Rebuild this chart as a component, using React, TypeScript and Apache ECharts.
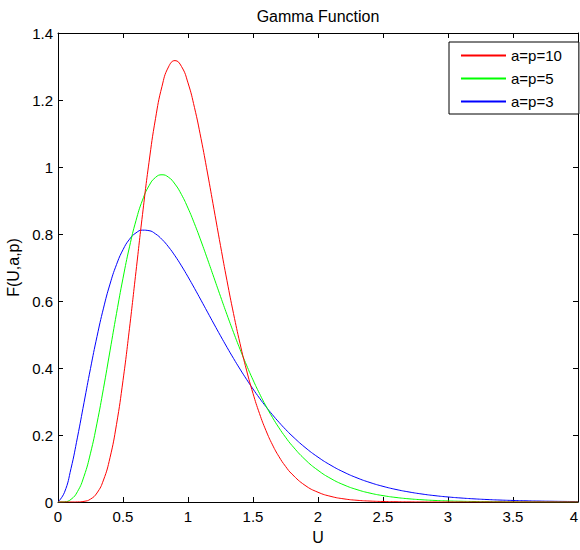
import React, { useEffect, useRef } from "react";
import * as echarts from "echarts";

const uValues = [
  0, 0.05, 0.1, 0.15, 0.2, 0.25, 0.3, 0.35, 0.4, 0.45, 0.5, 0.55, 0.6, 0.65, 0.7, 0.75, 0.8, 0.85, 0.9, 0.95,
  1.0, 1.05, 1.1, 1.15, 1.2, 1.25, 1.3, 1.35, 1.4, 1.45, 1.5, 1.55, 1.6, 1.65, 1.7, 1.75, 1.8,
  1.9, 2.0, 2.1, 2.2, 2.3, 2.4, 2.5, 2.6, 2.7, 2.8, 2.9, 3.0, 3.1, 3.2, 3.3, 3.4, 3.5, 3.6, 3.7, 3.8, 3.9, 4.0,
];

const seriesP10 = [
  0, 0, 0.00001, 0.00024, 0.0019, 0.0086, 0.027, 0.0656, 0.1323, 0.2316, 0.3627, 0.5187, 0.6884, 0.8581,
  1.014, 1.1444, 1.2408, 1.2987, 1.3176, 1.3, 1.2511, 1.1772, 1.0853, 0.982, 0.8736, 0.7652, 0.6605, 0.5627,
  0.4734, 0.3938, 0.3241, 0.264, 0.2131, 0.1705, 0.1353, 0.1065, 0.0833,
  0.0498, 0.0291, 0.0166, 0.0093, 0.0051, 0.0028, 0.0015, 0.0008, 0.0004, 0.0002, 0.0001, 0.00005,
  0, 0, 0, 0, 0, 0, 0, 0, 0, 0,
];

const seriesP5 = [
  0, 0.00063, 0.0079, 0.0311, 0.0766, 0.1457, 0.2353, 0.3395, 0.4511, 0.5628, 0.668, 0.7617, 0.8402, 0.9012,
  0.944, 0.9689, 0.9768, 0.9695, 0.949, 0.9176, 0.8773, 0.8305, 0.7791, 0.7248, 0.6693, 0.6137, 0.5591, 0.5064,
  0.4561, 0.4088, 0.3646, 0.3237, 0.2863, 0.2521, 0.2213, 0.1935, 0.1687,
  0.127, 0.0946, 0.0697, 0.0509, 0.0369, 0.0265, 0.019, 0.0135, 0.0095, 0.0067, 0.0046, 0.0032, 0.0022,
  0.0015, 0.0011, 0.0007, 0.0005, 0.0003, 0.0002, 0.00015, 0.0001, 0.00007,
];

const seriesP3 = [
  0, 0.029, 0.1, 0.1937, 0.2964, 0.3986, 0.494, 0.5787, 0.6506, 0.7087, 0.7531, 0.7843, 0.8034, 0.8115, 0.81,
  0.8004, 0.7838, 0.7616, 0.7349, 0.7048, 0.6721, 0.6378, 0.6025, 0.5668, 0.5312, 0.4961, 0.4618, 0.4287,
  0.3968, 0.3664, 0.3374, 0.3101, 0.2844, 0.2603, 0.2379, 0.217, 0.1976,
  0.1631, 0.1339, 0.1093, 0.0889, 0.072, 0.0581, 0.0467, 0.0374, 0.0299, 0.0238, 0.0189, 0.015, 0.0119,
  0.0094, 0.0074, 0.0058, 0.0046, 0.0036, 0.0028, 0.0022, 0.0017, 0.0013,
];

const seriesNames = ["a=p=10", "a=p=5", "a=p=3"];
const seriesColors = ["#ff0000", "#00ff00", "#0000ff"];

const FONT = "Liberation Sans, Arial, Helvetica, sans-serif";

export default function App() {
  const ref = useRef<HTMLDivElement>(null);

  useEffect(() => {
    if (!ref.current) return;
    const chart = echarts.init(ref.current, null, { renderer: "svg" });
    const all = [seriesP10, seriesP5, seriesP3];
    const axisCommon = {
      type: "value" as const,
      axisLine: { show: true, onZero: false, lineStyle: { color: "#000", width: 1 } },
      axisTick: { show: true, inside: true, length: 5, lineStyle: { color: "#000" } },
      splitLine: { show: false },
    };
    chart.setOption({
      animation: false,
      backgroundColor: "#ffffff",
      color: seriesColors,
      textStyle: { fontFamily: FONT },
      title: {
        text: "Gamma Function",
        left: 313,
        textAlign: "center",
        top: 3,
        textStyle: { fontFamily: FONT, fontSize: 16, fontWeight: "normal", color: "#000" },
      },
      grid: {
        left: 58,
        right: 2,
        top: 33,
        bottom: 48,
        containLabel: false,
        outerBoundsMode: "none",
      },
      legend: {
        orient: "vertical",
        left: 449,
        top: 42,
        itemWidth: 45,
        itemHeight: 14,
        itemGap: 8,
        padding: [6, 17, 5, 11],
        backgroundColor: "#ffffff",
        borderColor: "#000",
        borderWidth: 1,
        borderRadius: 0,
        itemStyle: { opacity: 0 },
        textStyle: { fontFamily: FONT, fontSize: 15, color: "#000" },
        data: seriesNames,
      },
      xAxis: [
        {
          ...axisCommon,
          position: "bottom",
          min: 0,
          max: 4,
          interval: 0.5,
          name: "U",
          nameLocation: "middle",
          nameGap: 27,
          nameTextStyle: { fontFamily: FONT, fontSize: 16, color: "#000" },
          axisLabel: { fontFamily: FONT, fontSize: 15, color: "#000", margin: 7, alignMaxLabel: "right" },
        },
        {
          ...axisCommon,
          position: "top",
          min: 0,
          max: 4,
          interval: 0.5,
          axisLabel: { show: false },
        },
      ],
      yAxis: [
        {
          ...axisCommon,
          position: "left",
          min: 0,
          max: 1.4,
          interval: 0.2,
          name: "F(U,a,p)",
          nameLocation: "middle",
          nameGap: 34,
          nameTextStyle: { fontFamily: FONT, fontSize: 16, color: "#000" },
          axisLabel: { fontFamily: FONT, fontSize: 15, color: "#000", margin: 5 },
        },
        {
          ...axisCommon,
          position: "right",
          min: 0,
          max: 1.4,
          interval: 0.2,
          axisLabel: { show: false },
        },
      ],
      series: all.map((vals, i) => ({
        name: seriesNames[i],
        type: "line",
        xAxisIndex: 0,
        yAxisIndex: 0,
        symbol: "none",
        smooth: true,
        itemStyle: { color: seriesColors[i] },
        lineStyle: { color: seriesColors[i], width: 1 },
        data: uValues.map((u, j) => [u, vals[j]]),
        z: 3 - i,
      })),
    });
    return () => chart.dispose();
  }, []);

  return (
    <div
      ref={ref}
      style={{ position: "fixed", left: 0, top: 0, width: 580, height: 550, background: "#fff" }}
    />
  );
}
